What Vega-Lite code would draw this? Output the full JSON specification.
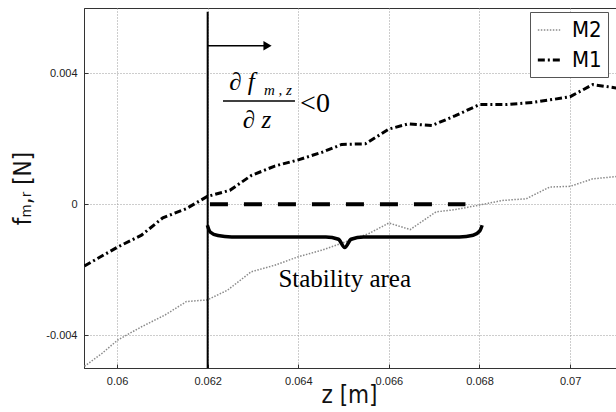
{
  "$schema": "https://vega.github.io/schema/vega-lite/v6.json",
  "autosize": "none",
  "width": 540,
  "height": 360,
  "padding": {"left": 84, "top": 8, "right": 0, "bottom": 44},
  "background": "white",
  "config": {
    "view": {"stroke": "#333", "strokeWidth": 1},
    "axis": {
      "labelFont": "Liberation Sans",
      "labelFontSize": 11,
      "labelColor": "#222",
      "domainColor": "#333",
      "tickColor": "#333",
      "gridColor": "#9a9a9a",
      "gridDash": [1, 2],
      "gridWidth": 1,
      "titleFont": "Liberation Sans Narrow, DejaVu Sans Condensed, Liberation Sans",
      "titleFontWeight": "normal",
      "titleFontSize": 24,
      "titleColor": "#111"
    }
  },
  "datasets": {
    "curves": [
      {"z": 0.05928, "f": -0.00188, "series": "M1"},
      {"z": 0.06002, "f": -0.0013, "series": "M1"},
      {"z": 0.06054, "f": -0.00094, "series": "M1"},
      {"z": 0.06101, "f": -0.00041, "series": "M1"},
      {"z": 0.06153, "f": -0.00013, "series": "M1"},
      {"z": 0.06199, "f": 0.00024, "series": "M1"},
      {"z": 0.06249, "f": 0.00043, "series": "M1"},
      {"z": 0.06296, "f": 0.00088, "series": "M1"},
      {"z": 0.06348, "f": 0.00117, "series": "M1"},
      {"z": 0.064, "f": 0.00136, "series": "M1"},
      {"z": 0.06452, "f": 0.00159, "series": "M1"},
      {"z": 0.06496, "f": 0.00183, "series": "M1"},
      {"z": 0.06548, "f": 0.00185, "series": "M1"},
      {"z": 0.066, "f": 0.0023, "series": "M1"},
      {"z": 0.06643, "f": 0.00246, "series": "M1"},
      {"z": 0.06695, "f": 0.00241, "series": "M1"},
      {"z": 0.06747, "f": 0.00271, "series": "M1"},
      {"z": 0.068, "f": 0.00305, "series": "M1"},
      {"z": 0.0686, "f": 0.00305, "series": "M1"},
      {"z": 0.0692, "f": 0.00312, "series": "M1"},
      {"z": 0.06964, "f": 0.00321, "series": "M1"},
      {"z": 0.07, "f": 0.00329, "series": "M1"},
      {"z": 0.0705, "f": 0.00366, "series": "M1"},
      {"z": 0.0711, "f": 0.00354, "series": "M1"},
      {"z": 0.05928, "f": -0.00495, "series": "M2"},
      {"z": 0.05967, "f": -0.00455, "series": "M2"},
      {"z": 0.06002, "f": -0.00414, "series": "M2"},
      {"z": 0.06054, "f": -0.00374, "series": "M2"},
      {"z": 0.06106, "f": -0.00338, "series": "M2"},
      {"z": 0.06153, "f": -0.00297, "series": "M2"},
      {"z": 0.06199, "f": -0.00292, "series": "M2"},
      {"z": 0.06244, "f": -0.00262, "series": "M2"},
      {"z": 0.06296, "f": -0.00206, "series": "M2"},
      {"z": 0.06348, "f": -0.00186, "series": "M2"},
      {"z": 0.064, "f": -0.0016, "series": "M2"},
      {"z": 0.06452, "f": -0.0014, "series": "M2"},
      {"z": 0.06504, "f": -0.00115, "series": "M2"},
      {"z": 0.06556, "f": -0.00089, "series": "M2"},
      {"z": 0.066, "f": -0.00057, "series": "M2"},
      {"z": 0.06647, "f": -0.00077, "series": "M2"},
      {"z": 0.06704, "f": -0.00023, "series": "M2"},
      {"z": 0.06747, "f": -0.00016, "series": "M2"},
      {"z": 0.068, "f": -0.00002, "series": "M2"},
      {"z": 0.06851, "f": 0.00012, "series": "M2"},
      {"z": 0.06903, "f": 0.00017, "series": "M2"},
      {"z": 0.06955, "f": 0.00053, "series": "M2"},
      {"z": 0.07, "f": 0.00055, "series": "M2"},
      {"z": 0.0705, "f": 0.00078, "series": "M2"},
      {"z": 0.0711, "f": 0.00086, "series": "M2"}
    ],
    "brace": [
      {"z": 0.061993, "f": -0.00064},
      {"z": 0.062054, "f": -0.000843},
      {"z": 0.062227, "f": -0.000954},
      {"z": 0.06253, "f": -0.000995},
      {"z": 0.06461, "f": -0.000995},
      {"z": 0.064887, "f": -0.001066},
      {"z": 0.065026, "f": -0.00132},
      {"z": 0.065165, "f": -0.001066},
      {"z": 0.065442, "f": -0.000995},
      {"z": 0.067556, "f": -0.000995},
      {"z": 0.06786, "f": -0.000944},
      {"z": 0.068007, "f": -0.000812},
      {"z": 0.068059, "f": -0.00064}
    ]
  },
  "layer": [
    {
      "mark": {"type": "rule", "color": "#444", "strokeWidth": 1},
      "encoding": {"y": {"datum": 0, "type": "quantitative"}}
    },
    {
      "data": {"name": "curves"},
      "mark": {"type": "line", "clip": true},
      "encoding": {
        "x": {
          "field": "z", "type": "quantitative",
          "scale": {"domain": [0.05927, 0.07119], "nice": false, "zero": false},
          "axis": {
            "values": [0.06, 0.062, 0.064, 0.066, 0.068, 0.07],
            "format": "~g",
            "grid": true,
            "tickSize": -4,
            "labelPadding": 11,
            "title": "z [m]",
            "titleX": 265,
            "titleY": 27,
            "titleBaseline": "middle"
          }
        },
        "y": {
          "field": "f", "type": "quantitative",
          "scale": {"domain": [-0.005, 0.006], "nice": false, "zero": false},
          "axis": {
            "values": [-0.004, 0, 0.004],
            "labelExpr": "replace(format(datum.value, '~g'), '−', '-')",
            "grid": true,
            "tickSize": -4,
            "labelPadding": 11,
            "title": "fₘ,ᵣ [N]",
            "titleX": -61,
            "titleY": 180,
            "titleAngle": -90,
            "titleAlign": "center",
            "titleBaseline": "middle"
          }
        },
        "color": {
          "field": "series", "type": "nominal",
          "scale": {"domain": ["M2", "M1"], "range": ["#8a8a8a", "#000000"]},
          "legend": {
            "title": null,
            "orient": "none",
            "legendX": 446,
            "legendY": 4,
            "padding": 6,
            "strokeColor": "#555",
            "fillColor": "white",
            "symbolType": "stroke",
            "symbolSize": 500,
            "labelFont": "Liberation Sans Narrow, DejaVu Sans Condensed, Liberation Sans",
            "labelFontSize": 22,
            "labelColor": "#000",
            "rowPadding": 6,
            "labelOffset": 10
          }
        },
        "strokeDash": {
          "field": "series", "type": "nominal",
          "scale": {"domain": ["M2", "M1"], "range": [[1.5, 1.5], [7, 3, 2, 3]]},
          "legend": {"title": null}
        },
        "strokeWidth": {
          "field": "series", "type": "nominal",
          "scale": {"domain": ["M2", "M1"], "range": [1.5, 3]},
          "legend": {"title": null}
        }
      }
    },
    {
      "data": {"values": [{"z": 0.062, "f0": -0.005, "f1": 0.005887}]},
      "mark": {"type": "rule", "color": "#000", "strokeWidth": 2},
      "encoding": {
        "x": {"field": "z", "type": "quantitative"},
        "y": {"field": "f0", "type": "quantitative"},
        "y2": {"field": "f1"}
      }
    },
    {
      "data": {"values": [{"z0": 0.062, "z1": 0.06327, "f": 0.004848}]},
      "mark": {"type": "rule", "color": "#000", "strokeWidth": 1.5},
      "encoding": {
        "x": {"field": "z0", "type": "quantitative"},
        "x2": {"field": "z1"},
        "y": {"field": "f", "type": "quantitative"}
      }
    },
    {
      "data": {"values": [{"z": 0.063321, "f": 0.004848}]},
      "mark": {"type": "point", "shape": "triangle-right", "filled": true, "color": "#000", "size": 90, "opacity": 1},
      "encoding": {
        "x": {"field": "z", "type": "quantitative"},
        "y": {"field": "f", "type": "quantitative"}
      }
    },
    {
      "data": {"values": [{"z0": 0.06205, "z1": 0.06769, "f": 0}]},
      "mark": {"type": "rule", "color": "#000", "strokeWidth": 4, "strokeDash": [18, 16]},
      "encoding": {
        "x": {"field": "z0", "type": "quantitative"},
        "x2": {"field": "z1"},
        "y": {"field": "f", "type": "quantitative"}
      }
    },
    {
      "data": {"name": "brace"},
      "mark": {"type": "line", "color": "#000", "strokeWidth": 3.5, "interpolate": "monotone"},
      "encoding": {
        "x": {"field": "z", "type": "quantitative"},
        "y": {"field": "f", "type": "quantitative"}
      }
    },
    {
      "data": {"values": [{"z": 0.065025, "f": -0.002516, "label": "Stability area"}]},
      "mark": {"type": "text", "font": "Liberation Serif", "fontSize": 25, "align": "center", "baseline": "alphabetic", "color": "#000"},
      "encoding": {
        "x": {"field": "z", "type": "quantitative"},
        "y": {"field": "f", "type": "quantitative"},
        "text": {"field": "label"}
      }
    },
    {
      "data": {"values": [
        {"z": 0.062758, "f": 0.003494, "label": "∂ f"},
        {"z": 0.063089, "f": 0.002333, "label": "∂ z"}
      ]},
      "mark": {"type": "text", "font": "Liberation Serif", "fontSize": 25, "fontStyle": "italic", "align": "center", "baseline": "alphabetic", "color": "#000"},
      "encoding": {
        "x": {"field": "z", "type": "quantitative"},
        "y": {"field": "f", "type": "quantitative"},
        "text": {"field": "label"}
      }
    },
    {
      "data": {"values": [{"z": 0.063552, "f": 0.003342, "label": "m , z"}]},
      "mark": {"type": "text", "font": "Liberation Serif", "fontSize": 15, "fontStyle": "italic", "align": "center", "baseline": "alphabetic", "color": "#000"},
      "encoding": {
        "x": {"field": "z", "type": "quantitative"},
        "y": {"field": "f", "type": "quantitative"},
        "text": {"field": "label"}
      }
    },
    {
      "data": {"values": [{"z0": 0.062338, "z1": 0.063927, "f": 0.003158}]},
      "mark": {"type": "rule", "color": "#000", "strokeWidth": 1.3},
      "encoding": {
        "x": {"field": "z0", "type": "quantitative"},
        "x2": {"field": "z1"},
        "y": {"field": "f", "type": "quantitative"}
      }
    },
    {
      "data": {"values": [{"z": 0.064369, "f": 0.002822, "label": "<0"}]},
      "mark": {"type": "text", "font": "Liberation Serif", "fontSize": 28, "align": "center", "baseline": "alphabetic", "color": "#000"},
      "encoding": {
        "x": {"field": "z", "type": "quantitative"},
        "y": {"field": "f", "type": "quantitative"},
        "text": {"field": "label"}
      }
    }
  ]
}
